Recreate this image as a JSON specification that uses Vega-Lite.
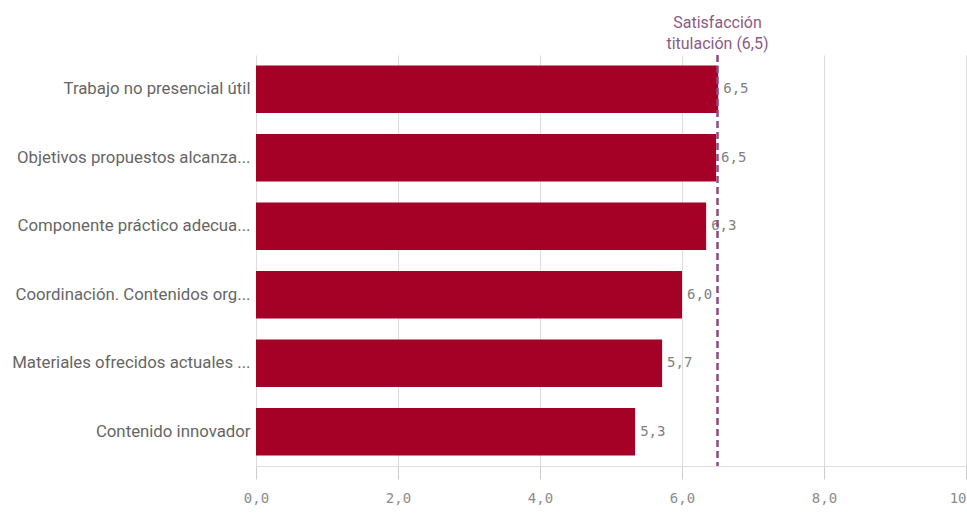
{
  "$schema": "https://vega.github.io/schema/vega-lite/v6.json",
  "autosize": "none",
  "width": 710,
  "height": 411,
  "padding": {"left": 256, "top": 55, "right": 1, "bottom": 49},
  "background": "white",
  "config": {
    "view": {"stroke": null},
    "locale": {"number": {"decimal": ",", "thousands": ".", "grouping": [3], "currency": ["", " €"]}}
  },
  "datasets": {
    "bars": [
      {"item": "Trabajo no presencial útil", "value": 6.51},
      {"item": "Objetivos propuestos alcanza...", "value": 6.48},
      {"item": "Componente práctico adecua...", "value": 6.34},
      {"item": "Coordinación. Contenidos org...", "value": 6.0},
      {"item": "Materiales ofrecidos actuales ...", "value": 5.72},
      {"item": "Contenido innovador", "value": 5.34}
    ],
    "ref": [{"ref": 6.5, "label": ["Satisfacción", "titulación (6,5)"]}]
  },
  "layer": [
    {
      "data": {"name": "bars"},
      "mark": {"type": "bar", "color": "#a50026"},
      "encoding": {
        "y": {
          "field": "item", "type": "nominal", "sort": null,
          "scale": {"paddingInner": 0.31, "paddingOuter": 0.155},
          "axis": {
            "title": null, "domain": false, "ticks": false, "grid": false,
            "labelPadding": 6, "labelFont": "Roboto", "labelFontSize": 16.8,
            "labelColor": "#666666", "labelLimit": 300
          }
        },
        "x": {
          "field": "value", "type": "quantitative",
          "scale": {"domain": [0, 10], "nice": false},
          "axis": {
            "title": null, "values": [0, 2, 4, 6, 8, 10], "format": ".1f",
            "grid": true, "gridColor": "#dddddd", "domainColor": "#dddddd",
            "tickColor": "#cccccc", "tickSize": 13, "labelPadding": 12,
            "labelFont": "DejaVu Sans Mono", "labelFontSize": 14,
            "labelColor": "#8c8c8c", "labelFlush": false
          }
        }
      }
    },
    {
      "data": {"name": "bars"},
      "mark": {"type": "text", "align": "left", "baseline": "middle", "dx": 5,
               "font": "DejaVu Sans Mono", "fontSize": 14, "color": "#808080"},
      "encoding": {
        "y": {"field": "item", "type": "nominal", "sort": null},
        "x": {"field": "value", "type": "quantitative"},
        "text": {"field": "value", "type": "quantitative", "format": ".1f"}
      }
    },
    {
      "data": {"name": "ref"},
      "mark": {"type": "rule", "color": "#8e4a80", "strokeWidth": 2.5, "strokeDash": [7, 4]},
      "encoding": {"x": {"field": "ref", "type": "quantitative"}}
    },
    {
      "data": {"name": "ref"},
      "mark": {"type": "text", "y": 0, "dy": -24, "align": "center", "baseline": "bottom",
               "font": "Roboto", "fontSize": 16, "color": "#8b5a86", "lineHeight": 21},
      "encoding": {
        "x": {"field": "ref", "type": "quantitative"},
        "text": {"field": "label"}
      }
    }
  ]
}
